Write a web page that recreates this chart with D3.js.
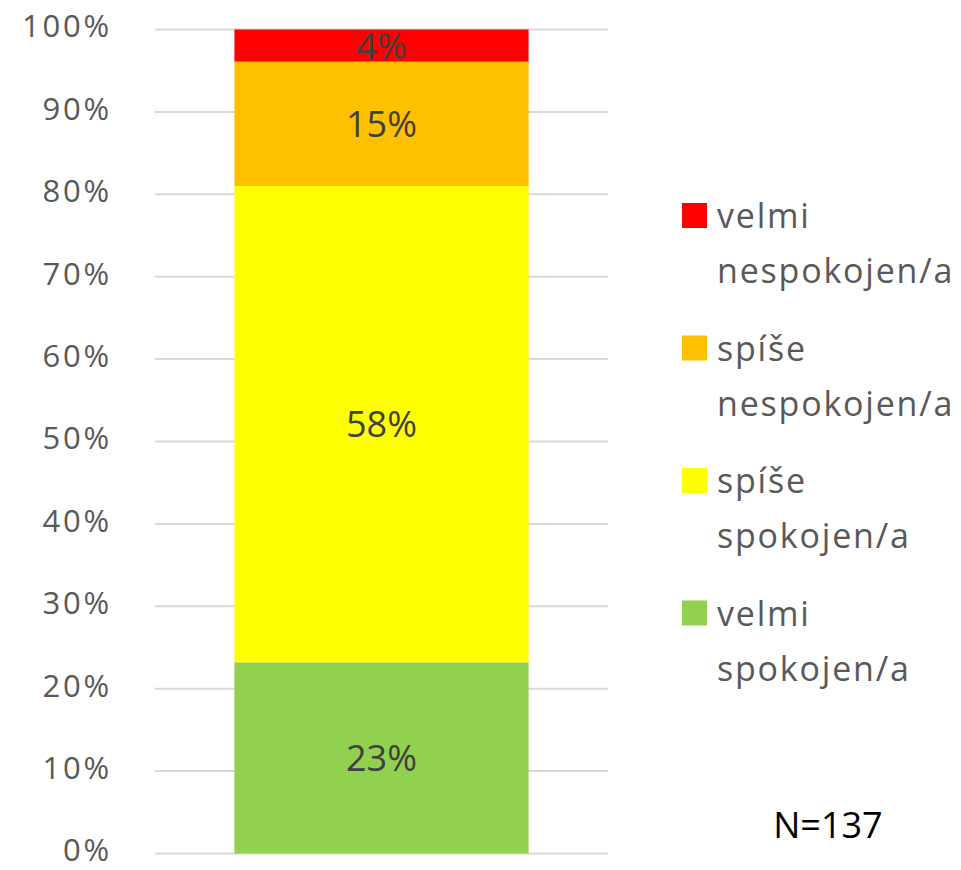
<!DOCTYPE html>
<html>
<head>
<meta charset="utf-8">
<script src="https://cdn.jsdelivr.net/npm/d3@7"></script>
<style>
  body { margin: 0; background: #fff; }
  svg text { font-family: "Open Sans", "Noto Sans", sans-serif; }
</style>
</head>
<body>
<div id="chart"></div>
<script>
// data (shares in %, N=137)
var categories = ["velmi spokojen/a", "spíše spokojen/a", "spíše nespokojen/a", "velmi nespokojen/a"];
var legendLines = [["velmi", "spokojen/a"], ["spíše", "spokojen/a"], ["spíše", "nespokojen/a"], ["velmi", "nespokojen/a"]];
var values = [23.2, 57.8, 15.1, 3.9];
var colors = ["#92D050", "#FFFF00", "#FFC000", "#FF0000"];
var yTicks = [0, 10, 20, 30, 40, 50, 60, 70, 80, 90, 100];
var barName = ["all"];
var nLabel = "N=137";

var width = 961, height = 870;

var svg = d3.select('#chart').append('svg')
	.attr('width', width)
	.attr('height', height);

var y = d3.scaleLinear().domain([0, 100]).range([853.5, 29.5]);
var x = d3.scaleBand().domain(barName).range([155, 608]).paddingInner(0).paddingOuter(0.27);

// gridlines
svg.append('g').selectAll('line').data(yTicks).enter()
	.append('line')
		.attr('x1', 155)
		.attr('x2', 608)
		.attr('y1', function(d) { return y(d); })
		.attr('y2', function(d) { return y(d); })
		.attr('stroke', '#D9D9D9')
		.attr('stroke-width', 2);

// y axis labels
var yAxis = d3.axisLeft(y).tickValues(yTicks).tickSize(0).tickPadding(0)
	.tickFormat(function(d) { return d + '%'; });
var gy = svg.append('g').attr('transform', 'translate(112,0)').call(yAxis);
gy.select('.domain').remove();
gy.selectAll('text')
	.attr('fill', '#595959')
	.attr('dy', '0.24em')
	.style('font-family', '"Open Sans", sans-serif')
	.style('font-size', '31px')
	.style('letter-spacing', '2.8px');

// stacked segments
var stacked = [];
var acc = 0;
values.forEach(function(v, i) {
	stacked.push({ name: categories[i], y0: acc, y1: acc + v, value: v, color: colors[i] });
	acc += v;
});

var seg = svg.append('g').selectAll('g').data(stacked).enter().append('g');
seg.append('rect')
	.attr('x', x('all'))
	.attr('width', x.bandwidth())
	.attr('y', function(d) { return y(d.y1); })
	.attr('height', function(d) { return y(d.y0) - y(d.y1); })
	.attr('fill', function(d) { return d.color; });
seg.append('text')
	.attr('x', x('all') + x.bandwidth() / 2)
	.attr('y', function(d) { return (y(d.y0) + y(d.y1)) / 2; })
	.attr('dy', '0.36em')
	.attr('text-anchor', 'middle')
	.attr('fill', '#404040')
	.style('font-size', '36px')
	.text(function(d) { return Math.round(d.value) + '%'; });

// legend, top item is the last series
var legend = svg.append('g').selectAll('g').data(d3.range(categories.length).reverse()).enter()
	.append('g')
		.attr('transform', function(d, i) { return 'translate(682,' + (203 + i * 132.5) + ')'; });
legend.append('rect')
	.attr('width', 25)
	.attr('height', 25)
	.attr('fill', function(d) { return colors[d]; });
legend.append('text')
	.attr('x', 35)
	.attr('y', 25)
	.attr('fill', '#595959')
	.style('font-size', '34px')
	.style('letter-spacing', '1.8px')
	.selectAll('tspan').data(function(d) { return legendLines[d]; }).enter()
	.append('tspan')
		.attr('x', 35)
		.attr('dy', function(d, i) { return i === 0 ? 0 : 55; })
		.text(function(d) { return d; });

svg.append('text')
	.attr('x', 828)
	.attr('y', 838)
	.attr('text-anchor', 'middle')
	.attr('fill', '#000')
	.style('font-size', '36px')
	.text(nLabel);
</script>
</body>
</html>
